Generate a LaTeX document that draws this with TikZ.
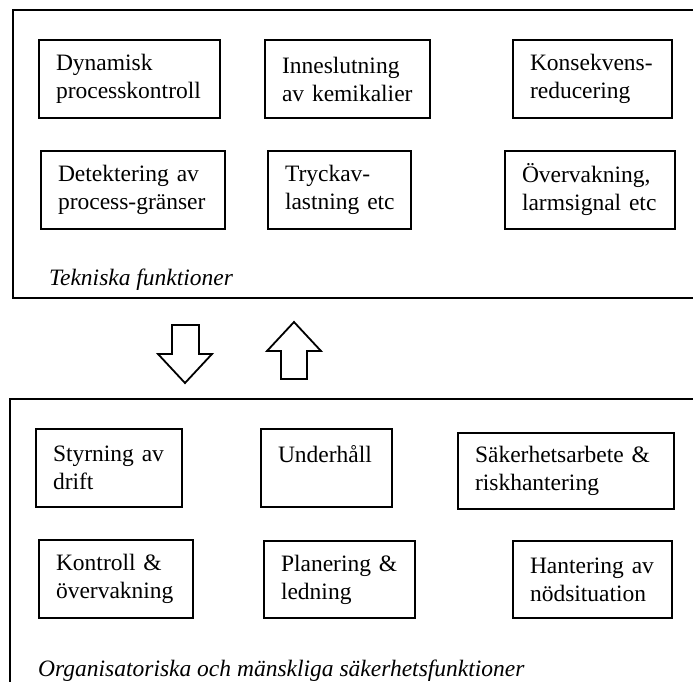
\documentclass[tikz,border=0pt]{standalone}
\usepackage{fontspec}
\setmainfont{Liberation Serif}
\definecolor{c000000}{RGB}{0,0,0}

\tikzset{
  fbox/.style={draw=c000000, line width=2pt, align=left, anchor=north west,
    inner xsep=17pt, inner ysep=0pt, minimum height=78pt,
    font=\fontsize{23.5}{28}\selectfont},
  flbl/.style={anchor=base west, inner sep=0pt,
    font=\fontsize{23.5}{28}\selectfont\itshape},
  blockarrow/.style={draw=c000000, fill=white, line width=1.8pt, line join=miter}
}

\begin{document}
\begin{tikzpicture}[x=1pt, y=-1pt]
  \useasboundingbox (0,0) rectangle (693,681);
  \clip (0,0) rectangle (693,681);

  % frames
  \draw[line width=2pt] (13,10) rectangle (705,298);
  \draw[line width=2pt] (10,399) rectangle (705,695);

  % tekniska funktioner
  \node[fbox, text width=147pt] (dynamisk) at (38,39) {Dynamisk\\processkontroll};
  \node[fbox, text width=131pt] (inneslut) at (264,39) {Inneslutning\\av~kemikalier};
  \node[fbox, text width=125pt] (konsekv) at (512,39) {Konsekvens-\\reducering};
  \node[fbox, text width=150pt] (detekt) at (40,150) {Detektering~av\\process-gränser};
  \node[fbox, text width=109pt] (tryckav) at (267,150) {Tryckav-\\lastning~etc};
  \node[fbox, text width=136pt] (overvak) at (504,150) {Övervakning,\\larmsignal~etc};
  \node[flbl] (tekn) at (49,285) {Tekniska funktioner};

  % pilar
  \path[blockarrow] (172,325) -- (199,325) -- (199,354) -- (212,354) -- (185,383)
    -- (158,354) -- (172,354) -- cycle;
  \path[blockarrow] (281,379) -- (307,379) -- (307,351) -- (321,351) -- (294,322)
    -- (267,351) -- (281,351) -- cycle;

  % organisatoriska funktioner
  \node[fbox, text width=112pt] (styrning) at (35,428) {Styrning~av\\drift};
  \node[fbox, text width=97pt] (underhall) at (260,428) {Underhåll\\\mbox{}};
  \node[fbox, text width=182pt, minimum height=76pt] (sakerhet) at (457,432) {Säkerhetsarbete~\&\\riskhantering};
  \node[fbox, text width=120pt] (kontroll) at (38,539) {Kontroll~\&\\övervakning};
  \node[fbox, text width=117pt, minimum height=77pt] (planering) at (263,540) {Planering~\&\\ledning};
  \node[fbox, text width=125pt, minimum height=77pt] (hantering) at (512,540) {Hantering~av\\nödsituation};
  \node[flbl] (org) at (38,676) {Organisatoriska och mänskliga säkerhetsfunktioner};
\end{tikzpicture}
\end{document}
